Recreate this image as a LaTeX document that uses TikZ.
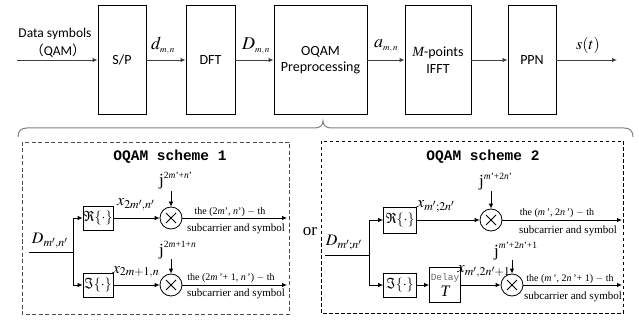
\documentclass[tikz,border=0pt]{standalone}
\usepackage{mathptmx}
\usepackage[no-math]{fontspec}
\setmainfont{Liberation Serif}
\newfontfamily\calfont{Carlito}
\newfontfamily\monofont{Liberation Mono}
\newfontfamily\cjkfont{Noto Sans CJK SC}
\usetikzlibrary{arrows.meta}
\newcommand{\jpow}[1]{{\fontsize{17}{17}\selectfont j}\raisebox{7.5pt}{\fontsize{9.5}{9.5}\selectfont #1}}
\newcommand{\tsub}[1]{\mbox{\fontsize{9}{9}\selectfont $#1$}}
\tikzset{
  blk/.style={draw, line width=0.9pt, minimum width=#1, minimum height=109pt, inner sep=0pt, align=center, font=\calfont\fontsize{14}{16.5}\selectfont},
  arr/.style={line width=0.8pt, -{Latex[length=5pt,width=4.5pt]}},
  tarr/.style={line width=0.9pt, draw=black!75, -{Latex[length=5pt,width=4.5pt]}},
  sbox/.style={draw, line width=0.8pt, inner sep=0pt, minimum width=#1, minimum height=24pt, font=\fontsize{14}{14}\selectfont},
  mul/.style={circle, draw, line width=0.8pt, minimum size=22pt, inner sep=0pt,
    path picture={\draw[line width=0.8pt]
      ([shift={(-5pt,-5pt)}]path picture bounding box.center) -- ([shift={(5pt,5pt)}]path picture bounding box.center)
      ([shift={(-5pt,5pt)}]path picture bounding box.center) -- ([shift={(5pt,-5pt)}]path picture bounding box.center);}},
  lab/.style={inner sep=0pt},
  sm/.style={inner sep=0pt, font=\fontsize{10}{12}\selectfont},
  sc/.style={inner sep=0pt, font=\fontsize{11}{13}\selectfont},
  ttl/.style={inner sep=0pt, font=\monofont\bfseries\fontsize{14.5}{16}\selectfont},
  frameA/.style={draw=black!70, line width=0.8pt, dash pattern=on 4pt off 2.5pt},
  frameB/.style={draw, line width=0.8pt, dash pattern=on 3.5pt off 2.5pt},
  brace/.style={draw=black!50, line width=1pt}
}
\begin{document}
\begin{tikzpicture}[x=1pt,y=-1pt]
\useasboundingbox (0,0) rectangle (639,320);
% ---------- top row ----------
\node[blk=48pt] (sp) at (122,60) {S/P};
\node[blk=49pt] (dft) at (210.5,60) {DFT};
\node[blk=93pt] (oq) at (320.5,60) {OQAM\\Preprocessing};
\node[blk=66pt] (ifft) at (438,60) {{\rmfamily\itshape M}-points\\IFFT};
\node[blk=48pt] (ppn) at (532,60) {PPN};
\coordinate (in) at (17,60);
\coordinate (out) at (617,60);
\draw[tarr] (in) -- (sp);
\draw[tarr] (sp) -- (dft);
\draw[tarr] (dft) -- (oq);
\draw[tarr] (oq) -- (ifft);
\draw[tarr] (ifft) -- (ppn);
\draw[tarr] (ppn) -- (out);
\node[lab, font=\calfont\fontsize{13.5}{16}\selectfont] (ds) at (55,34) {Data symbols};
\node[lab, font=\calfont\fontsize{13.5}{16}\selectfont] (qam) at (58,51) {{\cjkfont （}QAM{\cjkfont ）}};
\node[lab, anchor=base, font=\fontsize{18}{18}\selectfont] (ld) at (163,50) {$d_{\tsub{m,n}}$};
\node[lab, anchor=base, font=\fontsize{18}{18}\selectfont] (lD) at (256,50) {$D_{\tsub{m,n}}$};
\node[lab, anchor=base, font=\fontsize{18}{18}\selectfont] (la) at (386,48) {$a_{\tsub{m,n}}$};
\node[lab, anchor=base, font=\fontsize{16}{16}\selectfont] (ls) at (588,50) {$s(t)$};
% ---------- brace ----------
\draw[brace] (18,137) .. controls (18,131) and (21,128) .. (27,128) -- (315,128)
  .. controls (320,128) and (323,125) .. (323,121)
  .. controls (323,125) and (326,128) .. (331,128) -- (624,128)
  .. controls (630,128) and (633,131) .. (633,137);
% ---------- frames ----------
\draw[frameA] (22,142) rectangle (289,314);
\draw[frameB] (321,141) rectangle (623,313);
\node[lab, font=\fontsize{17}{17}\selectfont] (or) at (310,232) {or};
% ---------- scheme 1 ----------
\node[ttl] (t1) at (170,157) {OQAM scheme 1};
\coordinate (a1) at (29,252);
\coordinate (s1) at (73,252);
\coordinate (s1u) at (73,218);
\coordinate (s1d) at (73,285);
\node[sbox=30pt] (re1) at (98,218) {$\Re\{\cdot\}$};
\node[sbox=30pt] (im1) at (98,285) {$\Im\{\cdot\}$};
\node[mul] (m1) at (171,218) {};
\node[mul] (m2) at (171,285) {};
\coordinate (o1) at (287,218);
\coordinate (o2) at (287,285);
\draw[line width=0.8pt] (a1) -- (s1);
\draw[line width=0.8pt] (s1u) -- (s1d);
\draw[arr] (s1u) -- (re1);
\draw[arr] (s1d) -- (im1);
\draw[arr] (re1) -- (m1);
\draw[arr] (im1) -- (m2);
\draw[arr] (m1) -- (o1);
\draw[arr] (m2) -- (o2);
\node[lab, font=\fontsize{16}{16}\selectfont] (D1) at (50,241) {$D_{m',n'}$};
\node[lab, font=\fontsize{16}{16}\selectfont] (x1) at (136,205) {$x_{2m',n'}$};
\node[lab, font=\fontsize{16}{16}\selectfont] (x2) at (136,272) {$x_{2m+1,n}$};
\node[lab, anchor=base west] (j1) at (159,186) {\jpow{2\textit{m}'+\textit{n}'}};
\node[lab, anchor=base west] (j2) at (159,255) {\jpow{2\textit{m}+1+\textit{n}}};
\coordinate (j1s) at (171,191);
\coordinate (j2s) at (171,259);
\draw[arr] (j1s) -- (m1);
\draw[arr] (j2s) -- (m2);
\node[sm] (th1) at (230,212) {the (2\textit{m}', \textit{n}') $-$ th};
\node[sc] (sb1) at (236,229) {subcarrier and symbol};
\node[sm] (th2) at (231,278) {the (2\textit{m}\,'+ 1, \textit{n}\,') $-$ th};
\node[sc] (sb2) at (236,294) {subcarrier and symbol};
% ---------- scheme 2 ----------
\node[ttl] (t2) at (483,157) {OQAM scheme 2};
\coordinate (a2) at (325,255);
\coordinate (s2) at (369,255);
\coordinate (s2u) at (369,220);
\coordinate (s2d) at (369,285);
\node[sbox=33pt, minimum height=26pt] (re2) at (400,220) {$\Re\{\cdot\}$};
\node[sbox=33pt] (im2) at (400,285) {$\Im\{\cdot\}$};
\node[draw, line width=0.8pt, minimum width=31pt, minimum height=35pt, inner sep=0pt, align=center, font=\fontsize{14}{16}\selectfont] (dl) at (445,285)
  {{\monofont\fontsize{9.5}{10}\selectfont\color{black!60}Delay}\\[0pt]{\fontsize{16}{16}\selectfont\itshape T}};
\node[mul] (m3) at (491,220) {};
\node[mul] (m4) at (512,285) {};
\coordinate (o3) at (622,220);
\coordinate (o4) at (622,285);
\draw[line width=0.8pt] (a2) -- (s2);
\draw[line width=0.8pt] (s2u) -- (s2d);
\draw[arr] (s2u) -- (re2);
\draw[arr] (s2d) -- (im2);
\draw[arr] (re2) -- (m3);
\draw[arr] (im2) -- (dl);
\draw[arr] (dl) -- (m4);
\draw[arr] (m3) -- (o3);
\draw[arr] (m4) -- (o4);
\node[lab, font=\fontsize{16}{16}\selectfont] (D2) at (344,243) {$D_{m';n'}$};
\node[lab, font=\fontsize{16}{16}\selectfont] (x3) at (436,206) {$x_{m';2n'}$};
\node[lab, font=\fontsize{16}{16}\selectfont] (x4) at (484,272) {$x_{m',2n'+1}$};
\node[lab, anchor=base west] (j3) at (479,187) {\jpow{\textit{m}'+2\textit{n}'}};
\node[lab, anchor=base west] (j4) at (494,256) {\jpow{\textit{m}'+2\textit{n}'+1}};
\coordinate (j3s) at (491,191);
\coordinate (j4s) at (512,260);
\draw[arr] (j3s) -- (m3);
\draw[arr] (j4s) -- (m4);
\node[sm] (th3) at (557,213) {the (\textit{m}\,', 2\textit{n}\,') $-$ th};
\node[sc] (sb3) at (568,231) {subcarrier and symbol};
\node[sm] (th4) at (570,279) {the (\textit{m}\,', 2\textit{n}\,'+ 1) $-$ th};
\node[sc] (sb4) at (573,297) {subcarrier and symbol};
\end{tikzpicture}
\end{document}
